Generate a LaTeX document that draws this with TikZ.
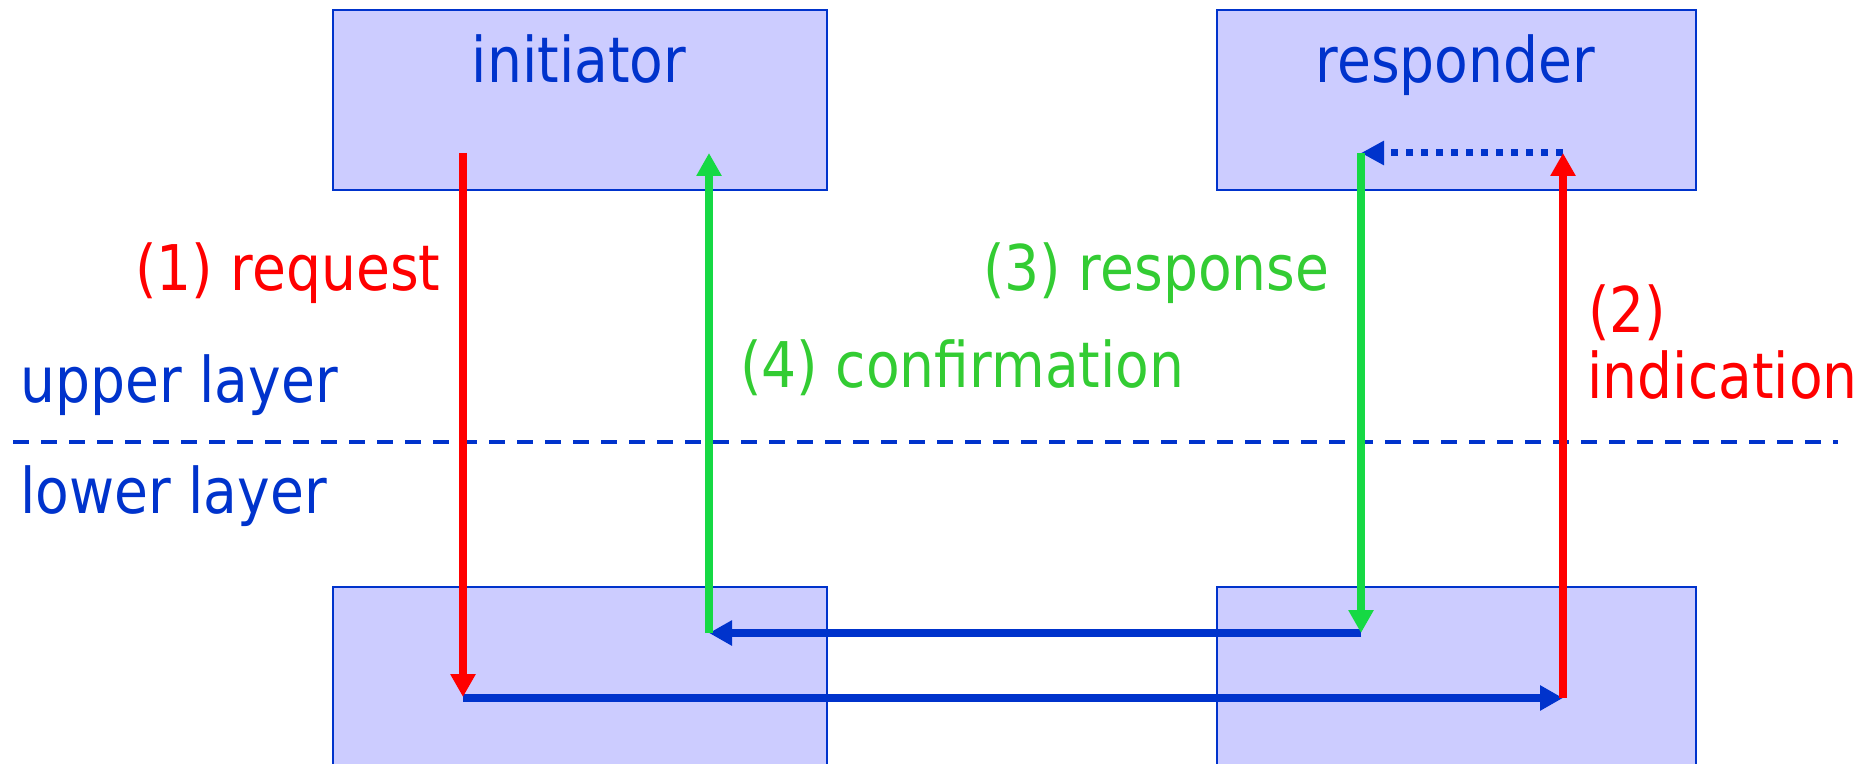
\documentclass[tikz,border=0pt]{standalone}
\usepackage{fontspec}
\setmainfont{DejaVu Sans}[FakeStretch=0.875]
\usetikzlibrary{arrows.meta}
\definecolor{lblue}{RGB}{0,51,204}
\definecolor{boxfill}{RGB}{204,204,255}
\definecolor{lred}{RGB}{255,0,0}
\definecolor{lgreen}{RGB}{22,217,68}
\definecolor{tgreen}{RGB}{51,204,51}
\begin{document}
\begin{tikzpicture}[x=0.5pt,y=-0.5pt,
  layerbox/.style={draw=lblue,fill=boxfill,line width=1.2pt,inner sep=0pt,
    minimum width=247pt,anchor=north west},
  txt/.style={inner sep=0pt,font=\fontsize{31.5}{38}\selectfont},
  flow/.style={line width=3.75pt,-{Triangle[length=11.5pt,width=12pt]}},
  every node/.style={}]
\useasboundingbox (0,0) rectangle (1874,764);

% service access boxes
\node[layerbox,minimum height=90pt] (init) at (332,9) {};
\node[layerbox,minimum height=90pt,minimum width=239.5pt] (resp) at (1216,9) {};
\node[layerbox,minimum height=100pt] (initlow) at (332,586) {};
\node[layerbox,minimum height=100pt,minimum width=239.5pt] (resplow) at (1216,586) {};

\node[txt,text=lblue,anchor=base] (initlabel) at (579,83) {initiator};
\node[txt,text=lblue,anchor=base] (resplabel) at (1455.5,83) {responder};

% boundary between layers
\coordinate (sepL) at (13,442);
\coordinate (sepR) at (1838,442);
\draw[lblue,line width=2pt,dash pattern=on 8pt off 6pt] (sepL) -- (sepR);
\node[txt,text=lblue,anchor=base west] (upper) at (20,403) {upper layer};
\node[txt,text=lblue,anchor=base west] (lower) at (20,514) {lower layer};

% end points of the primitives
\coordinate (reqTop) at (463,153);
\coordinate (reqBot) at (463,697);
\coordinate (conTop) at (709,153);
\coordinate (conBot) at (709,633);
\coordinate (rspTop) at (1361,153);
\coordinate (rspBot) at (1361,633);
\coordinate (indTop) at (1563,153);
\coordinate (indBot) at (1563,698);
\coordinate (reqLow) at (463,698);

% transfer in the lower layer
\draw[flow,lblue] (reqLow) -- (indBot);
\draw[flow,lblue] (rspBot) -- (conBot);
% local step in the responder
\draw[lblue,line width=3.5pt,dash pattern=on 3.5pt off 4pt,
  -{Triangle[length=11.5pt,width=11.5pt]}] (indTop) -- (rspTop);

% primitives
\draw[flow,lred] (reqTop) -- (reqBot);
\draw[flow,lred] (indBot) -- (indTop);
\draw[flow,lgreen] (rspTop) -- (rspBot);
\draw[flow,lgreen] (conBot) -- (conTop);

\node[txt,text=lred,anchor=base west] (l1) at (135,291) {(1) request};
\node[txt,text=lred,anchor=base west] (l2a) at (1588,333) {(2)};
\node[txt,text=lred,anchor=base west] (l2b) at (1587,399) {indication};
\node[txt,text=tgreen,anchor=base west] (l3) at (983,291) {(3) response};
\node[txt,text=tgreen,anchor=base west] (l4) at (740,388) {(4) confirmation};
\end{tikzpicture}
\end{document}
